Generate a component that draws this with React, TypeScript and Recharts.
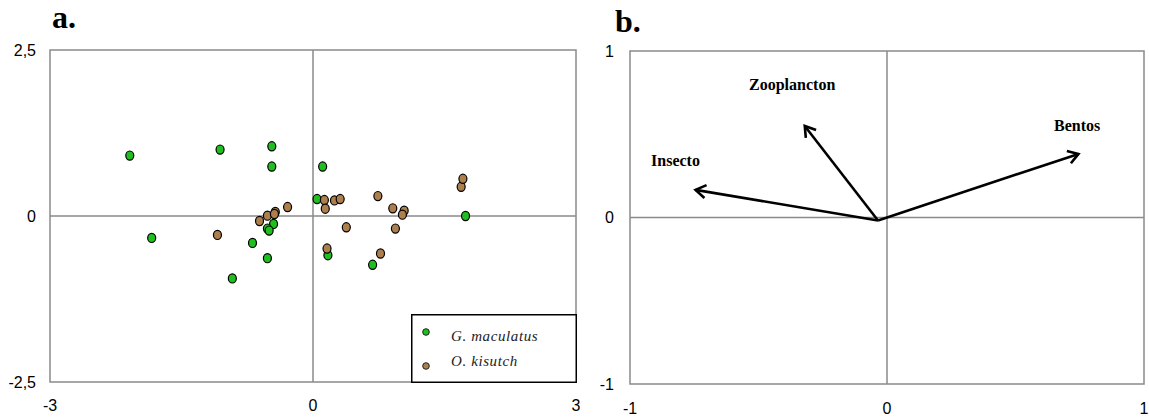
import {
  ScatterChart,
  Scatter,
  XAxis,
  YAxis,
  ReferenceLine,
  ReferenceArea,
  Legend,
  LabelList,
} from "recharts";

// panel a: scores of the individual fish
const gMaculatus = [
  { x: -2.09, y: 0.91 },
  { x: -1.06, y: 1.0 },
  { x: -0.47, y: 1.05 },
  { x: -0.47, y: 0.745 },
  { x: 0.11, y: 0.745 },
  { x: 0.046, y: 0.255 },
  { x: -1.84, y: -0.33 },
  { x: -0.69, y: -0.405 },
  { x: -0.52, y: -0.635 },
  { x: -0.92, y: -0.94 },
  { x: -0.45, y: -0.12 },
  { x: -0.52, y: -0.19 },
  { x: -0.5, y: -0.22 },
  { x: 0.17, y: -0.59 },
  { x: 0.68, y: -0.735 },
  { x: 1.74, y: 0.0 },
];

const oKisutch = [
  { x: -1.09, y: -0.285 },
  { x: -0.61, y: -0.075 },
  { x: -0.52, y: 0.005 },
  { x: -0.43, y: 0.06 },
  { x: -0.44, y: 0.03 },
  { x: -0.29, y: 0.135 },
  { x: 0.13, y: 0.24 },
  { x: 0.14, y: 0.11 },
  { x: 0.245, y: 0.235 },
  { x: 0.31, y: 0.255 },
  { x: 0.38, y: -0.17 },
  { x: 0.16, y: -0.49 },
  { x: 0.74, y: 0.3 },
  { x: 0.77, y: -0.565 },
  { x: 0.91, y: 0.115 },
  { x: 0.94, y: -0.19 },
  { x: 1.04, y: 0.08 },
  { x: 1.02, y: 0.02 },
  { x: 1.69, y: 0.44 },
  { x: 1.71, y: 0.56 },
];

const xTicksA = [-3, 0, 3];
const yTicksA = [-2.5, 0, 2.5];

// panel b: diet vectors
const vectorNames = ["Insecto", "Zooplancton", "Bentos"];
const vectorX = [-0.745, -0.32, 0.745];
const vectorY = [0.166, 0.55, 0.382];
const vectorOrigin = { x: -0.035, y: -0.018 };
const labelX = [-0.823, -0.369, 0.74];
const labelY = [0.342, 0.8, 0.552];
const ticksB = [-1, 0, 1];

const GREEN = "#1fbf1f";
const BROWN = "#ad7f4c";
const GRID = "#8a8a8a";

const tickStyle = { fontSize: 16, fontFamily: "Liberation Sans", fill: "#000" };
const comma = (v: number) => String(v).replace(".", ",");

const Dot = (props: any) => (
  <ellipse
    cx={props.cx}
    cy={props.cy}
    rx={4}
    ry={4.6}
    fill={props.fill}
    stroke="#000"
    strokeWidth={1.2}
  />
);

const Arrow = (props: any) => {
  const { x1, y1, x2, y2 } = props;
  const a = Math.atan2(y2 - y1, x2 - x1);
  const len = 12;
  const spread = Math.PI / 5.5;
  const p1 = `${x2 - len * Math.cos(a - spread)},${y2 - len * Math.sin(a - spread)}`;
  const p2 = `${x2 - len * Math.cos(a + spread)},${y2 - len * Math.sin(a + spread)}`;
  return (
    <g>
      <line x1={x1} y1={y1} x2={x2} y2={y2} stroke="#000" strokeWidth={2.6} />
      <polyline
        points={`${p1} ${x2},${y2} ${p2}`}
        fill="none"
        stroke="#000"
        strokeWidth={2.6}
      />
    </g>
  );
};

const LegendBox = (props: any) => {
  const items = props.payload || [];
  return (
    <svg width={166} height={69} style={{ display: "block" }}>
      <rect x={0.75} y={0.75} width={164.5} height={67.5} fill="#fff" stroke="#000" strokeWidth={1.5} />
      {items.map((entry: any, i: number) => (
        <g key={entry.value}>
          <circle
            cx={15}
            cy={i === 0 ? 18 : 52}
            r={3.3}
            fill={entry.color}
            stroke="#222"
            strokeWidth={1}
          />
          <text
            x={40}
            y={i === 0 ? 27 : 52}
            fontFamily="Liberation Serif"
            fontStyle="italic"
            fontSize={15}
            letterSpacing={0.6}
            fill="#222"
          >
            {entry.value}
          </text>
        </g>
      ))}
    </svg>
  );
};

const titleStyle = {
  position: "absolute" as const,
  fontFamily: "Liberation Serif",
  fontWeight: "bold" as const,
  fontSize: 32,
  lineHeight: "32px",
};

const labelData = vectorNames.map((name, i) => ({ name, x: labelX[i], y: labelY[i] }));

export default function App() {
  return (
    <div>
      <div style={{ ...titleStyle, left: 52, top: 1 }}>a.</div>
      <div style={{ ...titleStyle, left: 615, top: 5 }}>b.</div>

      <div style={{ position: "absolute", left: 0, top: 0 }}>
        <ScatterChart width={580} height={418} margin={{ top: 50, right: 4, bottom: 0, left: 0 }}>
          <XAxis
            type="number"
            dataKey="x"
            domain={[-3, 3]}
            ticks={xTicksA}
            interval={0}
            height={36}
            axisLine={false}
            tickLine={false}
            tickSize={6}
            tickMargin={12}
            tick={tickStyle}
          />
          <YAxis
            type="number"
            dataKey="y"
            domain={[-2.5, 2.5]}
            ticks={yTicksA}
            interval={0}
            width={50}
            axisLine={false}
            tickLine={false}
            tickSize={6}
            tickMargin={8}
            tick={tickStyle}
            tickFormatter={comma}
          />
          <ReferenceArea x1={-3} x2={3} y1={-2.5} y2={2.5} fill="none" stroke={GRID} strokeWidth={1.5} />
          <ReferenceLine x={0} stroke={GRID} strokeWidth={1.5} />
          <ReferenceLine y={0} stroke={GRID} strokeWidth={1.5} />
          <Scatter name="G. maculatus" data={gMaculatus} fill={GREEN} shape={Dot} isAnimationActive={false} />
          <Scatter name="O. kisutch" data={oKisutch} fill={BROWN} shape={Dot} isAnimationActive={false} />
          <Legend
            layout="horizontal"
            verticalAlign="middle"
            align="center"
            content={LegendBox}
            wrapperStyle={{ left: 411, top: 314, width: 166, height: 69 }}
          />
        </ScatterChart>
      </div>

      <div style={{ position: "absolute", left: 580, top: 0 }}>
        <ScatterChart width={569} height={418} margin={{ top: 51, right: 5, bottom: 0, left: 0 }}>
          <XAxis
            type="number"
            dataKey="x"
            domain={[-1, 1]}
            ticks={ticksB}
            interval={0}
            height={34}
            axisLine={false}
            tickLine={false}
            tickSize={6}
            tickMargin={13}
            tick={tickStyle}
          />
          <YAxis
            type="number"
            dataKey="y"
            domain={[-1, 1]}
            ticks={ticksB}
            interval={0}
            width={50}
            axisLine={false}
            tickLine={false}
            tickSize={6}
            tickMargin={10}
            tick={tickStyle}
          />
          <ReferenceArea x1={-1} x2={1} y1={-1} y2={1} fill="none" stroke={GRID} strokeWidth={1.5} />
          <ReferenceLine x={0} stroke={GRID} strokeWidth={1.5} />
          <ReferenceLine y={0} stroke={GRID} strokeWidth={1.5} />
          {vectorNames.map((name, i) => (
            <ReferenceLine
              key={name}
              segment={[vectorOrigin, { x: vectorX[i], y: vectorY[i] }]}
              shape={Arrow}
            />
          ))}
          <Scatter data={labelData} shape={() => <g />} isAnimationActive={false}>
            <LabelList
              dataKey="name"
              position="center"
              fill="#000"
              fontFamily="Liberation Serif"
              fontWeight="bold"
              fontSize={16}
            />
          </Scatter>
        </ScatterChart>
      </div>
    </div>
  );
}
